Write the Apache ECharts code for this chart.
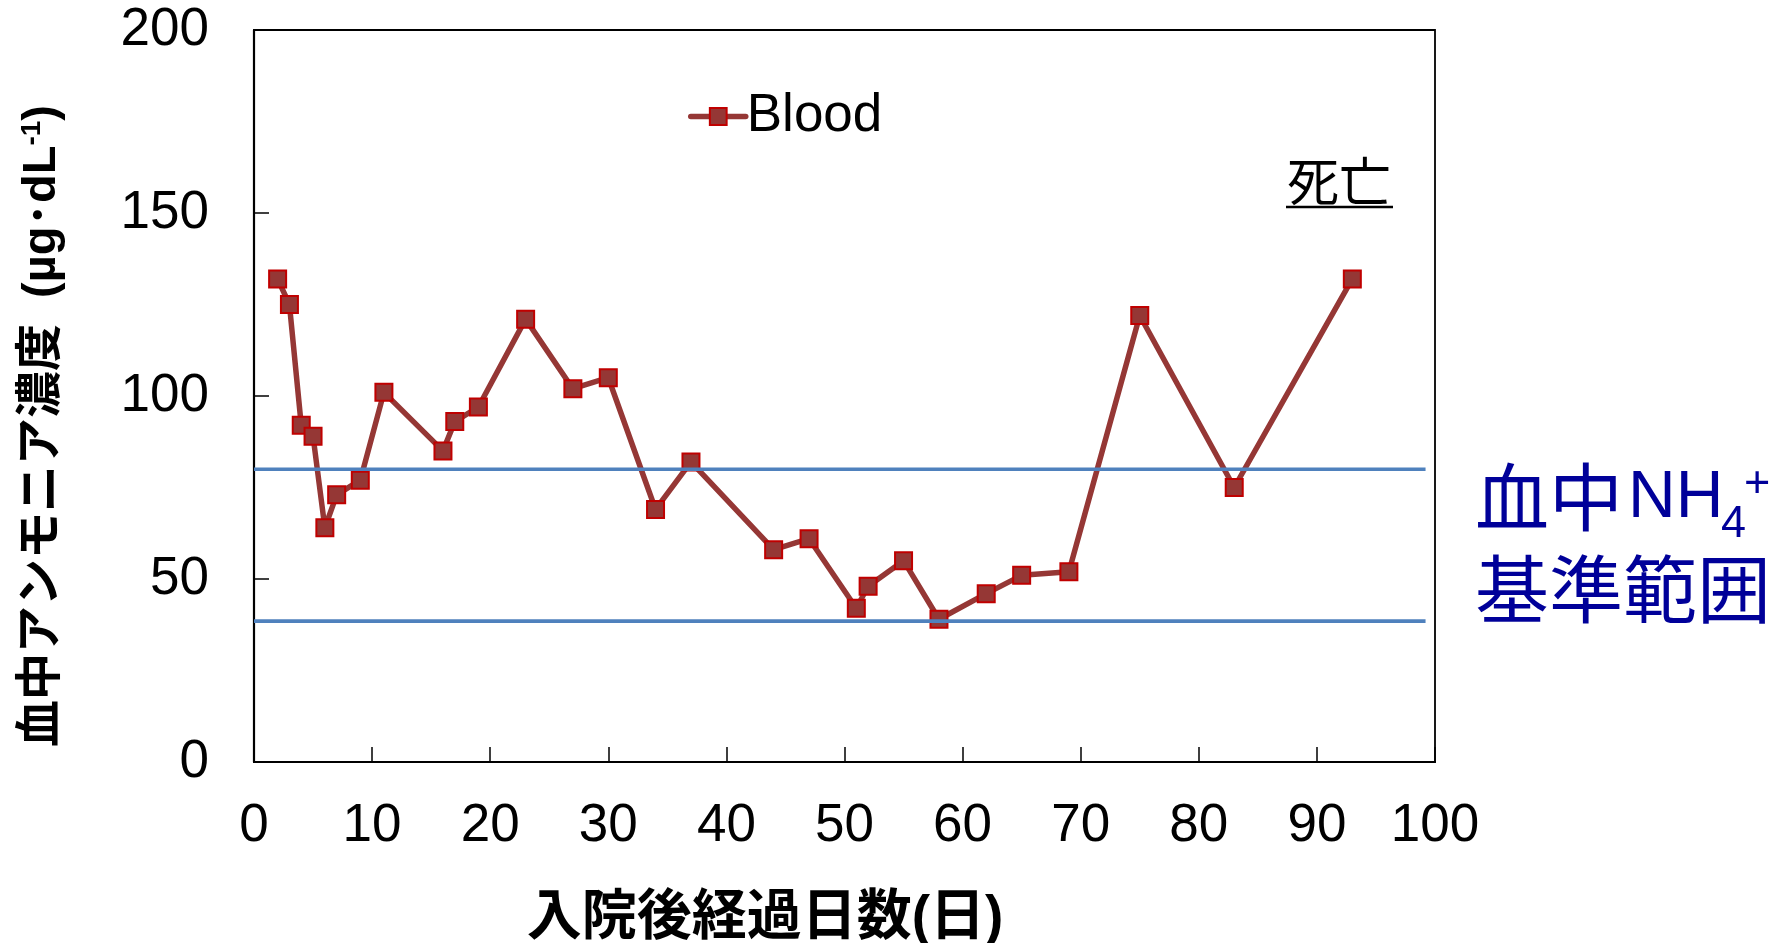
<!DOCTYPE html>
<html>
<head>
<meta charset="utf-8">
<title>血中アンモニア濃度の推移</title>
<script src="https://cdn.jsdelivr.net/npm/echarts@6/dist/echarts.min.js"></script>
<style>
  html, body { margin: 0; padding: 0; background: #ffffff; }
  #chart { width: 1783px; height: 943px; }
</style>
</head>
<body>
<div id="chart"></div>
<script>
// Days after admission and measured blood ammonia (µg/dL)
const days    = [2, 3, 4, 5, 6, 7, 9, 11, 16, 17, 19, 23, 27, 30, 34, 37, 44, 47, 51, 52, 55, 58, 62, 65, 69, 75, 83, 93];
const ammonia = [132, 125, 92, 89, 64, 73, 77, 101, 85, 93, 97, 121, 102, 105, 69, 82, 58, 61, 42, 48, 55, 39, 46, 51, 52, 122, 75, 132];

// Reference range of blood NH4+ (upper / lower bound) and the day span they cover
const refUpper = 80;
const refLower = 38.5;
const refDays  = [0, 99.2];

// Axis ranges
const xRange = { min: 0, max: 100, step: 10 };
const yRange = { min: 0, max: 200, step: 50 };

const LATIN = "'Liberation Sans', Arial, 'Noto Sans CJK JP', sans-serif";
const CJK   = "'Noto Sans CJK JP', 'Liberation Sans', sans-serif";
const NAVY  = '#000099';
const BLOOD = '#953735';
const REF_BLUE = '#4F81BD';

const chart = echarts.init(document.getElementById('chart'), null, { renderer: 'canvas' });

const bloodData = days.map((d, i) => [d, ammonia[i]]);
const refLine = (v) => refDays.map(d => [d, v]);

const option = {
  animation: false,
  backgroundColor: '#ffffff',
  grid: {
    left: 254, right: 348, top: 30, bottom: 181,
    show: true, borderColor: '#000000', borderWidth: 1.8,
    containLabel: false, outerBoundsMode: 'none'
  },
  xAxis: {
    type: 'value',
    min: xRange.min, max: xRange.max, interval: xRange.step,
    axisLine: { show: true, onZero: false, lineStyle: { color: '#000000', width: 2.2 } },
    axisTick: { show: true, inside: true, length: 15, lineStyle: { color: '#000000', width: 1.5 } },
    axisLabel: { color: '#000000', fontFamily: LATIN, fontSize: 53, margin: 38 },
    splitLine: { show: false }
  },
  yAxis: {
    type: 'value',
    min: yRange.min, max: yRange.max, interval: yRange.step,
    axisLine: { show: true, onZero: false, lineStyle: { color: '#000000', width: 2.2 } },
    axisTick: { show: true, inside: true, length: 15, lineStyle: { color: '#000000', width: 1.5 } },
    axisLabel: { color: '#000000', fontFamily: LATIN, fontSize: 53, margin: 45 },
    splitLine: { show: false }
  },
  legend: {
    data: ['Blood'],
    left: 688, top: 90, padding: 0,
    itemWidth: 55, itemHeight: 21,
    lineStyle: { color: BLOOD, width: 5.5, cap: 'round' },
    textStyle: { color: '#000000', fontFamily: LATIN, fontSize: 53, padding: [0, 0, 0, -4] }
  },
  series: [
    {
      name: 'Blood',
      type: 'line',
      data: bloodData,
      symbol: 'rect',
      symbolSize: 17,
      itemStyle: { color: BLOOD, borderColor: '#C00000', borderWidth: 2 },
      lineStyle: { color: BLOOD, width: 5.5 },
      z: 3
    },
    {
      name: 'upper',
      type: 'line',
      data: refLine(refUpper),
      symbol: 'none',
      silent: true,
      lineStyle: { color: REF_BLUE, width: 3.6 },
      z: 4
    },
    {
      name: 'lower',
      type: 'line',
      data: refLine(refLower),
      symbol: 'none',
      silent: true,
      lineStyle: { color: REF_BLUE, width: 3.6 },
      z: 4
    }
  ],
  graphic: [
    // Y axis title (rotated, reads bottom to top)
    {
      type: 'text', x: 42, y: 426, rotation: Math.PI / 2,
      style: {
        text: '血中アンモニア濃度  (µg･dL{sup|-1})',
        fontFamily: LATIN, fontSize: 47, fontWeight: 'bold', fill: '#000000',
        align: 'center', verticalAlign: 'middle',
        rich: {
          sup: { fontFamily: LATIN, fontSize: 28, fontWeight: 'bold', fill: '#000000', verticalAlign: 'top' }
        }
      }
    },
    // X axis title
    {
      type: 'text', x: 765, y: 919,
      style: {
        text: '入院後経過日数(日)',
        fontFamily: LATIN, fontSize: 55, fontWeight: 'bold', fill: '#000000',
        align: 'center', verticalAlign: 'middle'
      }
    },
    // 死亡 with underline
    {
      type: 'text', x: 1287, y: 181,
      style: { text: '死亡', fontFamily: CJK, fontSize: 52, fill: '#000000', align: 'left', verticalAlign: 'middle' }
    },
    {
      type: 'line',
      shape: { x1: 1286, y1: 207, x2: 1393, y2: 207 },
      style: { stroke: '#000000', lineWidth: 2.5 }
    },
    // 血中NH4+ 基準範囲
    {
      type: 'text', x: 1475, y: 497,
      style: { text: '血中', fontFamily: CJK, fontSize: 74, fill: NAVY, align: 'left', verticalAlign: 'middle' }
    },
    {
      type: 'text', x: 1628, y: 499,
      style: { text: 'NH', fontFamily: LATIN, fontSize: 66, fill: NAVY, align: 'left', verticalAlign: 'middle' }
    },
    {
      type: 'text', x: 1721, y: 525,
      style: { text: '4', fontFamily: LATIN, fontSize: 45, fill: NAVY, align: 'left', verticalAlign: 'middle' }
    },
    {
      type: 'text', x: 1744, y: 485,
      style: { text: '+', fontFamily: LATIN, fontSize: 45, fill: NAVY, align: 'left', verticalAlign: 'middle' }
    },
    {
      type: 'text', x: 1475, y: 589,
      style: { text: '基準範囲', fontFamily: CJK, fontSize: 74, fill: NAVY, align: 'left', verticalAlign: 'middle' }
    }
  ]
};

chart.setOption(option);
</script>
</body>
</html>
